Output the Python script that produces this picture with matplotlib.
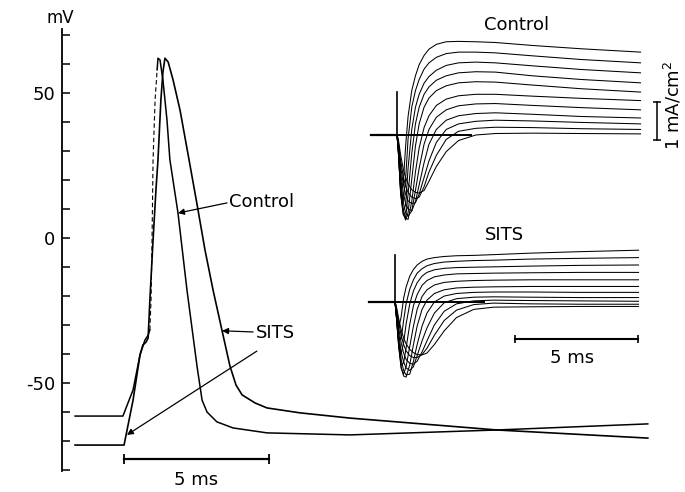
import matplotlib
matplotlib.use("Agg")
import matplotlib.pyplot as plt

W, H = 685, 492

# action potentials (time in ms, membrane potential in mV)
ctrl_t = [0.45, 2.10, 2.45, 2.69, 2.86, 2.97, 3.03, 3.07, 3.10, 3.14, 3.21, 3.28,
          3.31, 3.38, 3.48, 3.62, 3.72, 4.00, 4.31, 4.66, 4.83, 5.00, 5.34, 5.90,
          7.07, 9.93, 15.0, 20.2]
ctrl_v = [-61.4, -61.4, -52.4, -40.3, -35.2, -33.5, -31.7, -21.4, -4.1, 27.0, 47.6, 58.0,
          62.0, 61.4, 54.5, 40.7, 27.0, 8.6, -18.0, -44.5, -55.9, -60.0, -63.4, -65.5,
          -67.2, -67.9, -66.2, -64.1]

sits_t = [0.45, 2.14, 2.45, 2.69, 2.79, 2.90, 2.97, 3.03, 3.14, 3.24, 3.31, 3.41, 3.48,
          3.55, 3.66, 3.83, 4.07, 4.38, 4.66, 4.93, 5.21, 5.52, 5.79, 6.00, 6.21, 6.66,
          7.07, 8.21, 9.93, 15.0, 20.2]
sits_v = [-71.4, -71.4, -55.9, -40.3, -36.9, -35.9, -34.5, -21.4, -0.7, 16.6, 27.0, 47.6, 57.2,
          62.0, 60.7, 54.5, 44.1, 27.0, 11.4, -4.1, -18.0, -32.0, -44.1, -50.7, -54.1, -56.9,
          -58.6, -60.3, -62.1, -66.2, -69.0]

# voltage clamp current families (ms, mA/cm2), sampled on a common time grid
clamp_t = [0.05, 0.15, 0.25, 0.35, 0.45, 0.6, 0.75, 0.9, 1.1, 1.3, 1.6, 2.0, 2.5, 3.2,
           4.0, 5.5, 7.5, 9.9]

ctrl_currents = [
    [-0.4, -1.3, -1.35, -0.3, 0.5, 1.2, 1.6, 1.9, 2.15, 2.32, 2.45, 2.52, 2.53, 2.52, 2.5, 2.42, 2.33, 2.24],
    [-0.4, -1.5, -1.8, -1.2, -0.1, 0.75, 1.2, 1.5, 1.78, 1.95, 2.1, 2.2, 2.24, 2.24, 2.22, 2.14, 2.04, 1.95],
    [-0.4, -1.6, -2.05, -1.9, -0.9, 0.15, 0.75, 1.1, 1.4, 1.58, 1.75, 1.88, 1.95, 1.97, 1.95, 1.87, 1.77, 1.68],
    [-0.4, -1.6, -2.15, -2.25, -1.6, -0.5, 0.3, 0.75, 1.1, 1.3, 1.48, 1.6, 1.68, 1.71, 1.7, 1.6, 1.5, 1.41],
    [-0.35, -1.5, -2.1, -2.3, -2.1, -1.2, -0.3, 0.3, 0.75, 1.0, 1.2, 1.33, 1.41, 1.44, 1.43, 1.35, 1.25, 1.16],
    [-0.3, -1.35, -2.0, -2.25, -2.28, -1.8, -1.0, -0.35, 0.2, 0.52, 0.8, 0.97, 1.06, 1.1, 1.1, 1.05, 0.99, 0.93],
    [-0.3, -1.2, -1.8, -2.1, -2.2, -2.05, -1.5, -0.9, -0.25, 0.15, 0.48, 0.68, 0.79, 0.84, 0.85, 0.8, 0.74, 0.68],
    [-0.25, -1.0, -1.55, -1.85, -2.0, -2.05, -1.8, -1.35, -0.75, -0.25, 0.15, 0.4, 0.52, 0.58, 0.6, 0.56, 0.5, 0.46],
    [-0.2, -0.85, -1.3, -1.6, -1.78, -1.85, -1.83, -1.6, -1.15, -0.7, -0.2, 0.15, 0.3, 0.37, 0.4, 0.38, 0.34, 0.3],
    [-0.15, -0.7, -1.1, -1.38, -1.55, -1.68, -1.72, -1.68, -1.4, -1.0, -0.55, -0.12, 0.1, 0.18, 0.21, 0.2, 0.17, 0.15],
    [-0.1, -0.55, -0.9, -1.15, -1.32, -1.48, -1.55, -1.57, -1.5, -1.25, -0.85, -0.45, -0.15, 0.0, 0.04, 0.05, 0.04, 0.03],
]

sits_currents = [
    [-0.3, -0.7, -0.4, 0.1, 0.4, 0.7, 0.88, 1.0, 1.1, 1.16, 1.2, 1.23, 1.25, 1.26, 1.28, 1.32, 1.36, 1.4],
    [-0.35, -0.95, -1.0, -0.5, -0.05, 0.35, 0.6, 0.78, 0.9, 0.98, 1.04, 1.08, 1.1, 1.12, 1.13, 1.16, 1.18, 1.2],
    [-0.35, -1.1, -1.4, -1.1, -0.6, -0.05, 0.3, 0.52, 0.7, 0.8, 0.87, 0.91, 0.93, 0.94, 0.95, 0.97, 0.99, 1.0],
    [-0.35, -1.2, -1.7, -1.65, -1.25, -0.6, -0.1, 0.2, 0.45, 0.58, 0.68, 0.73, 0.76, 0.77, 0.78, 0.79, 0.8, 0.8],
    [-0.35, -1.2, -1.8, -1.95, -1.75, -1.2, -0.65, -0.2, 0.15, 0.33, 0.46, 0.53, 0.56, 0.58, 0.59, 0.6, 0.6, 0.6],
    [-0.3, -1.1, -1.75, -2.0, -2.03, -1.7, -1.15, -0.65, -0.2, 0.05, 0.23, 0.33, 0.38, 0.4, 0.41, 0.42, 0.42, 0.42],
    [-0.25, -1.0, -1.55, -1.85, -1.97, -1.95, -1.6, -1.15, -0.65, -0.3, 0.0, 0.16, 0.23, 0.26, 0.27, 0.27, 0.26, 0.26],
    [-0.2, -0.85, -1.35, -1.62, -1.78, -1.85, -1.75, -1.45, -1.05, -0.7, -0.3, -0.02, 0.09, 0.13, 0.14, 0.13, 0.12, 0.12],
    [-0.15, -0.7, -1.1, -1.38, -1.55, -1.66, -1.68, -1.6, -1.35, -1.05, -0.62, -0.25, -0.05, 0.03, 0.05, 0.04, 0.03, 0.02],
    [-0.12, -0.55, -0.9, -1.15, -1.32, -1.45, -1.5, -1.5, -1.42, -1.25, -0.9, -0.5, -0.22, -0.07, -0.03, -0.05, -0.06, -0.06],
    [-0.1, -0.45, -0.75, -0.97, -1.13, -1.28, -1.37, -1.42, -1.43, -1.38, -1.15, -0.78, -0.42, -0.2, -0.14, -0.13, -0.12, -0.12],
]

# holding baseline, zero reference and capacity transient
base_t = [-1.06, 0.0]
ctrl_zero_t = [0.0, 3.0]
sits_zero_t = [0.0, 3.6]
ctrl_spike = [0.0, 1.16]
sits_spike = [0.0, 1.27]


def fig_frac(x, y):
    return x / W, 1 - y / H


def box(x0, y0, x1, y1):
    return [x0 / W, 1 - y1 / H, (x1 - x0) / W, (y1 - y0) / H]


fig = plt.figure(figsize=(W / 100, H / 100), dpi=100)
fs = 13

# main panel: 1 ms = 29 px, 10 mV = 29 px
ax = fig.add_axes([0, 0, 1, 1])
ax.patch.set_visible(False)
ax.set_xlim(-62 / 29, (W - 62) / 29)
ax.set_ylim((238 - H) / 2.9, 238 / 2.9)

ax.plot(ctrl_t[:7], ctrl_v[:7], color="black", lw=1.1)
ax.plot(ctrl_t[6:12], ctrl_v[6:12], color="black", lw=0.8, ls=(0, (4, 2.5)))
ax.plot(ctrl_t[11:], ctrl_v[11:], color="black", lw=1.1)
ax.plot(sits_t, sits_v, color="black", lw=1.2)

for s in ["top", "right", "bottom"]:
    ax.spines[s].set_visible(False)
ax.spines["left"].set_position(("data", 0))
ax.spines["left"].set_bounds(-80.5, 72)
ax.spines["left"].set_linewidth(1.3)
ax.set_xticks([])
yt = list(range(-80, 71, 10))
ax.set_yticks(yt)
ax.set_yticklabels(["-50" if v == -50 else str(v) if v in (0, 50) else "" for v in yt])
ax.tick_params(axis="y", direction="in", length=6, width=1.1, pad=5, labelsize=fs)
fig.text(*fig_frac(60, 18), "mV", ha="center", va="center", fontsize=fs - 1)

# time calibration
ax.plot([2.14, 7.14], [-76.2, -76.2], color="black", lw=1.6,
        marker="|", markersize=7, markeredgewidth=1.3)
ax.text(4.64, -85.2, "5 ms", ha="center", va="baseline", fontsize=fs)

arrow = dict(arrowstyle="-|>", color="black", lw=0.9, mutation_scale=9,
             shrinkA=0, shrinkB=0)
ax.annotate("", xy=(4.0, 8.6), xytext=(5.69, 12.1), arrowprops=arrow)
ax.text(5.75, 12.5, "Control", ha="left", va="center", fontsize=fs)
ax.annotate("", xy=(5.52, -32.0), xytext=(6.59, -32.4), arrowprops=arrow)
ax.annotate("", xy=(2.24, -67.9), xytext=(6.72, -39.0), arrowprops=arrow)
ax.text(6.68, -32.6, "SITS", ha="left", va="center", fontsize=fs)

# control current family: 1 ms = 24.6 px, 1 mA/cm2 = 37 px
axc = fig.add_axes(box(355, 10, 685, 230))
axc.set_xlim((355 - 397) / 24.6, (685 - 397) / 24.6)
axc.set_ylim((135 - 230) / 37, (135 - 10) / 37)
axc.axis("off")
axc.plot(base_t, [0, 0], color="black", lw=1.6)
axc.plot(ctrl_zero_t, [0, 0], color="black", lw=1.4)
axc.plot([0, 0], ctrl_spike, color="black", lw=1.2)
for cur in ctrl_currents:
    axc.plot([0.0] + clamp_t, [0.0] + cur, color="black", lw=0.75)
axc.plot([10.57, 10.57], [-0.135, 0.89], color="black", lw=1.1,
         marker="_", markersize=6, markeredgewidth=1.1)
axc.text(11.2, 0.8, "1 mA/cm$^2$", rotation=90, ha="center", va="center", fontsize=fs)
fig.text(*fig_frac(517, 25), "Control", ha="center", va="center", fontsize=fs)

# SITS current family
axs = fig.add_axes(box(355, 240, 685, 400))
axs.set_xlim((355 - 395) / 24.6, (685 - 395) / 24.6)
axs.set_ylim((302 - 400) / 37, (302 - 240) / 37)
axs.axis("off")
axs.plot(base_t, [0, 0], color="black", lw=1.6)
axs.plot(sits_zero_t, [0, 0], color="black", lw=1.4)
axs.plot([0, 0], sits_spike, color="black", lw=1.2)
for cur in sits_currents:
    axs.plot([0.0] + clamp_t, [0.0] + cur, color="black", lw=0.75)
axs.plot([4.88, 9.88], [-1.0, -1.0], color="black", lw=1.5,
         marker="|", markersize=6, markeredgewidth=1.2)
axs.text(7.2, -1.52, "5 ms", ha="center", va="center", fontsize=fs)
fig.text(*fig_frac(504, 235), "SITS", ha="center", va="center", fontsize=fs)

fig.savefig("out.png", dpi=100)
